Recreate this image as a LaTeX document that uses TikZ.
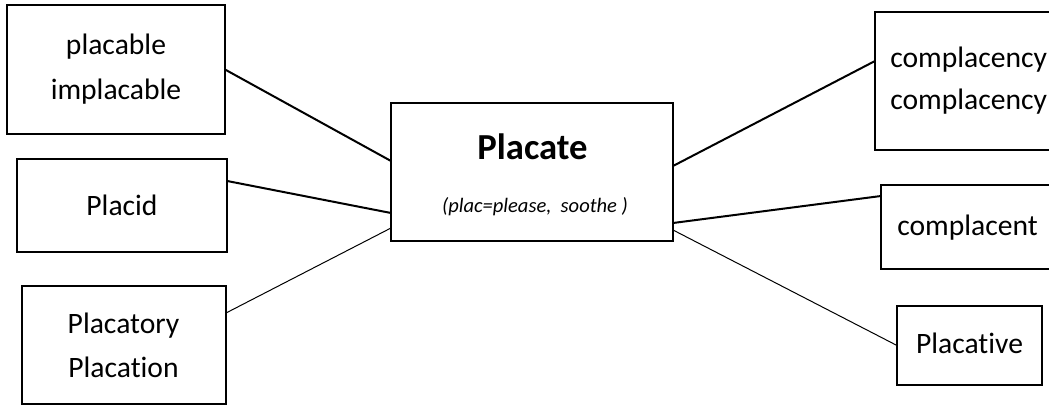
\documentclass[tikz,border=0pt]{standalone}
\usepackage{fontspec}
\setmainfont{Carlito}[Ligatures={NoCommon}]
\begin{document}
\begin{tikzpicture}[x=0.75pt,y=-0.75pt,
  box/.style={draw,line width=1.6pt,rectangle,inner sep=0pt,outer sep=0pt},
  word/.style={anchor=base,inner sep=0pt,font=\fontsize{22.2}{26}\selectfont},
  thickline/.style={line width=1.5pt},
  thinline/.style={line width=0.75pt}]
\useasboundingbox (0,0) rectangle (1049,406);
\clip (0,0) rectangle (1049,406);
% boxes
\node[box,minimum width=163.5pt,minimum height=96.75pt] (b1) at (116,69.5) {};
\node[box,minimum width=157.5pt,minimum height=69.75pt] (b2) at (122,205.5) {};
\node[box,minimum width=153pt,minimum height=88.5pt] (b3) at (124,345) {};
\node[box,minimum width=211.5pt,minimum height=103.5pt] (c) at (532,172) {};
\node[box,minimum width=138.75pt,minimum height=103.5pt] (r1) at (967.5,81) {};
\node[box,minimum width=134.25pt,minimum height=63pt] (r2) at (970.5,227) {};
\node[box,minimum width=108.75pt,minimum height=59.25pt] (r3) at (969.5,345.5) {};
% texts
\node[word] (t1a) at (116,55) {placable};
\node[word] (t1b) at (116,100) {implacable};
\node[word] (t2) at (122,215) {Placid};
\node[word] (t3a) at (123.5,333) {Placatory};
\node[word] (t3b) at (123.5,377) {Placation};
\node[word,font=\fontsize{27.5}{32}\selectfont\bfseries] (ct) at (532.5,160) {Placate};
\node[word,font=\fontsize{15.4}{18}\selectfont\itshape] (cs) at (535,213) {(plac=please,~ soothe )};
\node[word,anchor=base west] (r1a) at (890,68) {complacency};
\node[word,anchor=base west] (r1b) at (890,110) {complacency};
\node[word,anchor=base west] (r2t) at (897,235) {complacent};
\node[word] (r3t) at (969.5,353) {Placative};
% connectors
\draw[thickline] (b1.east) -- ([yshift=8.25pt]c.west);
\draw[thickline] ([yshift=18.4pt]b2.east) -- ([yshift=-30.75pt]c.west);
\draw[thinline] ([yshift=24pt]b3.east) -- ([yshift=-42pt]c.west);
\draw[thickline] ([yshift=4.5pt]c.east) -- ([yshift=15pt]r1.west);
\draw[thickline] ([yshift=-38.25pt]c.east) -- ([yshift=23.25pt]r2.west);
\draw[thinline] ([yshift=-43.5pt]c.east) -- (r3.west);
\end{tikzpicture}
\end{document}
